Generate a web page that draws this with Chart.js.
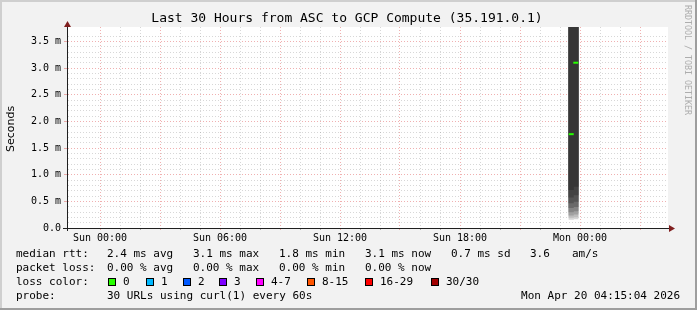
<!doctype html>
<html lang="en">
<head>
<meta charset="utf-8">
<title>Last 30 Hours from ASC to GCP Compute</title>
<script src="https://cdn.jsdelivr.net/npm/chart.js"></script>
<style>
  html,body{margin:0;padding:0;background:#f2f2f2}
  canvas{display:block}
</style>
</head>
<body>
<canvas id="chart" width="697" height="310"></canvas>

<script>
/* ---------- data ----------------------------------------------------- */
const graphTitle  = 'Last 30 Hours from ASC to GCP Compute (35.191.0.1)';
const xRange      = [-1.65, 28.4];          // hours after Sun 00:00
const tickHours   = [0, 6, 12, 18, 24];
const tickLabels  = ['Sun 00:00','Sun 06:00','Sun 12:00','Sun 18:00','Mon 00:00'];
const yMaxMs      = 3.77;

const sampleHours = [23.56, 23.79];         // the only two samples, just before Mon 00:00
const medianMs    = [1.76, 3.10];
// smoke bands, outermost first: [sample1, sample2] in ms
const smokeLow  = [[0.16,0.17],[0.20,0.21],[0.24,0.26],[0.30,0.32],[0.38,0.40],[0.47,0.50],[0.58,0.62],[0.72,0.78]];
const smokeHigh = [[6.5,6.5],[6.2,6.2],[5.9,5.9],[5.6,5.6],[5.3,5.3],[5.0,5.0],[4.7,4.7],[4.4,4.4]];

const rttStats   = ['2.4 ms avg','3.1 ms max','1.8 ms min','3.1 ms now','0.7 ms sd'];
const amsValue   = '3.6';
const lossStats  = ['0.00 % avg','0.00 % max','0.00 % min','0.00 % now'];
const lossBins   = ['0','1','2','3','4-7','8-15','16-29','30/30'];
const probeText  = '30 URLs using curl(1) every 60s';
const stampText  = 'Mon Apr 20 04:15:04 2026';

/* ---------- styles --------------------------------------------------- */
const smokeShades = ['#d6d6d6','#bdbdbd','#a0a0a0','#858585','#6a6a6a','#545454','#434343','#363636'];
const lossColors  = ['#26ff00','#00b8ff','#0059ff','#7e00ff','#ff00ff','#ff5500','#ff0000','#a10000'];
const MONO = '"DejaVu Sans Mono", monospace';
const minorGrid = 'rgba(143,143,143,0.36)';
const majorGrid = 'rgba(222,79,79,0.45)';

/* ---------- datasets ------------------------------------------------- */
const datasets = smokeLow.map((lo,i)=>({
  type:'bar',
  order:smokeLow.length-i,                  // outer (light) band drawn first
  data:sampleHours.map((h,j)=>({x:h,y:[lo[j],smokeHigh[i][j]]})),
  backgroundColor:smokeShades[i],
  borderWidth:0,
  barThickness:4.5,
  grouped:false
}));
datasets.push({
  type:'line',
  order:0,
  data:sampleHours.map((h,j)=>({x:h,y:medianMs[j]})),
  showLine:false,
  pointStyle:'line',
  pointRadius:2.5,
  borderWidth:2,
  borderColor:lossColors[0],
  backgroundColor:lossColors[0]
});

const isMult=(v,s)=>Math.abs(v/s-Math.round(v/s))<1e-6;

/* ---------- rrdtool-ish frame, arrows and text ----------------------- */
const rrdFrame={
  id:'rrdFrame',
  beforeDraw(c){
    const ctx=c.ctx, a=c.chartArea, W=c.width, H=c.height;
    ctx.save();
    ctx.fillStyle='#f2f2f2'; ctx.fillRect(0,0,W,H);
    ctx.fillStyle='#cfcfcf'; ctx.fillRect(0,0,W,2); ctx.fillRect(0,0,2,H);
    ctx.fillStyle='#9e9e9e'; ctx.fillRect(0,H-2,W,2); ctx.fillRect(W-2,0,2,H);
    ctx.fillStyle='#fff'; ctx.fillRect(a.left,a.top,a.right-a.left,a.bottom-a.top);
    ctx.restore();
  },
  afterDraw(c){
    const ctx=c.ctx, a=c.chartArea;
    ctx.save();
    // axis extensions + arrows
    ctx.strokeStyle='#1f1f1f'; ctx.lineWidth=1;
    ctx.beginPath();
    ctx.moveTo(a.left-4,a.bottom+0.5); ctx.lineTo(a.right+2,a.bottom+0.5);
    ctx.moveTo(a.left+0.5,a.top-1); ctx.lineTo(a.left+0.5,a.bottom+3);
    ctx.stroke();
    ctx.fillStyle='#801f1f';
    ctx.beginPath();
    ctx.moveTo(a.right+1,a.bottom-3); ctx.lineTo(a.right+7,a.bottom+0.5); ctx.lineTo(a.right+1,a.bottom+4);
    ctx.fill();
    ctx.beginPath();
    ctx.moveTo(a.left-3,a.top); ctx.lineTo(a.left+0.5,a.top-6); ctx.lineTo(a.left+4,a.top);
    ctx.fill();

    ctx.fillStyle='#000';
    ctx.textBaseline='middle';
    // title
    ctx.font='13px '+MONO; ctx.textAlign='center';
    ctx.fillText(graphTitle,347,19);
    // y title
    ctx.save();
    ctx.translate(11,129); ctx.rotate(-Math.PI/2);
    ctx.font='11px "DejaVu Sans", sans-serif';
    ctx.fillText('Seconds',0,0);
    ctx.restore();
    // watermark
    ctx.save();
    ctx.translate(687,5); ctx.rotate(Math.PI/2);
    ctx.font='8.3px '+MONO; ctx.textAlign='left'; ctx.fillStyle='#adadad';
    ctx.fillText('RRDTOOL / TOBI OETIKER',0,0);
    ctx.restore();

    // legend block
    ctx.font='11px '+MONO; ctx.textAlign='left';
    const cols=[107,193,279,365,451];
    ctx.fillText('median rtt:',16,254);
    rttStats.forEach((t,i)=>ctx.fillText(t,cols[i],254));
    ctx.fillText(amsValue,530,254);
    ctx.fillText('am/s',572,254);

    ctx.fillText('packet loss:',16,268);
    lossStats.forEach((t,i)=>ctx.fillText(t,cols[i],268));

    ctx.fillText('loss color:',16,282);
    const boxX=[108,146,183,219,256,307,365,431];
    lossBins.forEach((t,i)=>{
      ctx.fillStyle=lossColors[i]; ctx.fillRect(boxX[i],278,8,8);
      ctx.strokeStyle='#000'; ctx.strokeRect(boxX[i]+0.5,278.5,7,7);
      ctx.fillStyle='#000'; ctx.fillText(t,boxX[i]+15,282);
    });

    ctx.fillText('probe:',16,296);
    ctx.fillText(probeText,107,296);
    ctx.textAlign='right';
    ctx.fillText(stampText,680,296);
    ctx.restore();
  }
};

/* ---------- chart ---------------------------------------------------- */
new Chart(document.getElementById('chart'),{
  type:'bar',
  data:{datasets},
  plugins:[rrdFrame],
  options:{
    responsive:false,
    animation:false,
    devicePixelRatio:1,
    layout:{padding:{top:27,right:29,bottom:0,left:0}},
    plugins:{legend:{display:false},tooltip:{enabled:false},title:{display:false}},
    scales:{
      x:{
        type:'linear',
        min:xRange[0], max:xRange[1],
        offset:false,
        afterFit:s=>{s.height=82;},
        afterBuildTicks:s=>{s.ticks=s.ticks.filter(t=>isMult(t.value,1));},
        grid:{offset:false,
              color:ctx=>isMult(ctx.tick.value,3)?majorGrid:minorGrid,
              tickColor:ctx=>isMult(ctx.tick.value,3)?majorGrid:'rgba(143,143,143,0.7)',
              tickLength:2},
        border:{color:'#1f1f1f',dash:[1,2]},
        ticks:{stepSize:1,autoSkip:false,maxRotation:0,padding:2,color:'#000',
               font:{family:MONO,size:10},
               callback:v=>{const i=tickHours.indexOf(v);return i>=0?tickLabels[i]:'';}}
      },
      y:{
        type:'linear',
        min:0, max:yMaxMs,
        afterFit:s=>{s.width=67;},
        afterBuildTicks:s=>{s.ticks=s.ticks.filter(t=>isMult(t.value,0.1));},
        grid:{color:ctx=>isMult(ctx.tick.value,0.5)?majorGrid:minorGrid,
              tickColor:ctx=>ctx.tick.value===0?'#1f1f1f':(isMult(ctx.tick.value,0.5)?majorGrid:'rgba(0,0,0,0)'),
              tickLength:3},
        border:{color:'#1f1f1f',dash:[1,2]},
        ticks:{stepSize:0.1,maxTicksLimit:1000,autoSkip:false,padding:3,color:'#000',
               font:{family:MONO,size:10},
               callback:v=>isMult(v,0.5)?(v===0?'0.0':v.toFixed(1)+' m'):''}
      }
    }
  }
});
</script>
</body>
</html>
